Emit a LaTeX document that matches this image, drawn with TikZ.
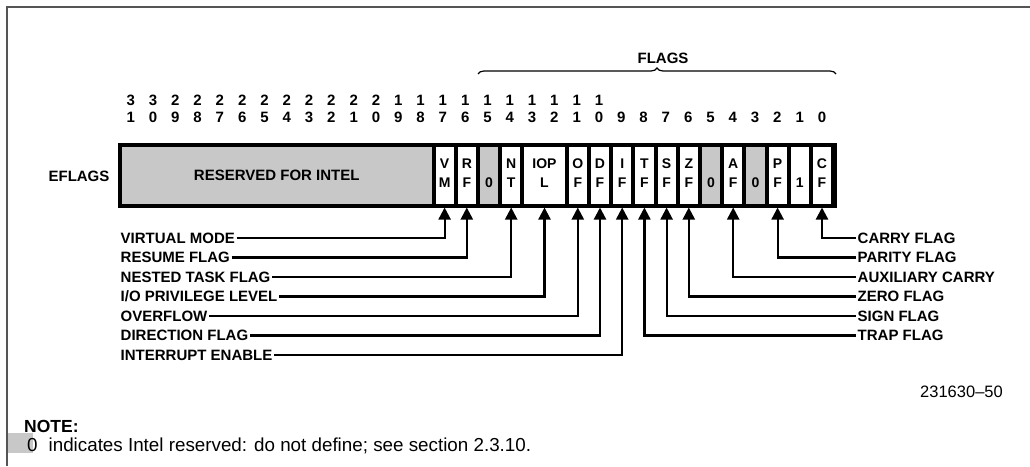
\documentclass[tikz,border=0pt]{standalone}
\usepackage{fontspec}
\setmainfont{Liberation Sans}
\newfontfamily\draftfont{Liberation Sans}
\usetikzlibrary{arrows.meta,decorations.pathreplacing}
\definecolor{resgray}{HTML}{C8C8C8}
\definecolor{framegray}{HTML}{555555}

\begin{document}
\begin{tikzpicture}[x=1pt,y=-1pt,
	lbl/.style={font=\draftfont\bfseries\fontsize{15}{17}\selectfont, inner sep=1.5pt, text height=10.5pt, text depth=0pt},
	bitno/.style={font=\draftfont\bfseries\fontsize{15}{17}\selectfont, align=center, inner sep=0pt},
	cell/.style={fill=white, minimum width=18.2pt, minimum height=57pt, inner sep=0pt, outer sep=3.5pt, align=center, text depth=4pt, font=\draftfont\bfseries\fontsize{14}{19}\selectfont},
	rsv/.style={cell, fill=resgray},
	flagline/.style={line width=2.2pt, line join=miter, -{Triangle[length=12pt,width=12pt]}}]
			%%%%% START %%%%%
			\useasboundingbox (0,0) rectangle (1030,466);
			
			\fill[resgray] (8,433) rectangle (33,453);
			\draw[framegray, line width=1.5pt] (1030,7) -- (7,7) -- (7,466);
			
			% bit numbers
			\node[bitno] (b31) at (130.7,108.5) {3\\1};
			\node[bitno] (b30) at (153,108.5) {3\\0};
			\node[bitno] (b29) at (175.3,108.5) {2\\9};
			\node[bitno] (b28) at (197.6,108.5) {2\\8};
			\node[bitno] (b27) at (219.9,108.5) {2\\7};
			\node[bitno] (b26) at (242.2,108.5) {2\\6};
			\node[bitno] (b25) at (264.5,108.5) {2\\5};
			\node[bitno] (b24) at (286.8,108.5) {2\\4};
			\node[bitno] (b23) at (309.1,108.5) {2\\3};
			\node[bitno] (b22) at (331.4,108.5) {2\\2};
			\node[bitno] (b21) at (353.7,108.5) {2\\1};
			\node[bitno] (b20) at (376,108.5) {2\\0};
			\node[bitno] (b19) at (398.3,108.5) {1\\9};
			\node[bitno] (b18) at (420.6,108.5) {1\\8};
			\node[bitno] (b17) at (442.9,108.5) {1\\7};
			\node[bitno] (b16) at (465.2,108.5) {1\\6};
			\node[bitno] (b15) at (487.5,108.5) {1\\5};
			\node[bitno] (b14) at (509.8,108.5) {1\\4};
			\node[bitno] (b13) at (532.1,108.5) {1\\3};
			\node[bitno] (b12) at (554.4,108.5) {1\\2};
			\node[bitno] (b11) at (576.7,108.5) {1\\1};
			\node[bitno] (b10) at (599,108.5) {1\\0};
			\node[bitno] (b9) at (621.3,117) {9};
			\node[bitno] (b8) at (643.6,117) {8};
			\node[bitno] (b7) at (665.9,117) {7};
			\node[bitno] (b6) at (688.2,117) {6};
			\node[bitno] (b5) at (710.5,117) {5};
			\node[bitno] (b4) at (732.8,117) {4};
			\node[bitno] (b3) at (755.1,117) {3};
			\node[bitno] (b2) at (777.4,117) {2};
			\node[bitno] (b1) at (799.7,117) {1};
			\node[bitno] (b0) at (822,117) {0};
			
			% flags brace
			\draw[line width=1.2pt, decorate, decoration={brace, amplitude=6pt}] (478,74) -- (836,74);
			\node[lbl] (flags) at (663,58) {FLAGS};
			
			% register
			\node[lbl] (eflags) at (79,176) {EFLAGS};
			\fill[black] (118,143) rectangle (837,208);
			\node[rsv, minimum width=309.5pt, text depth=0pt, font=\draftfont\bfseries\fontsize{15}{17}\selectfont] (cRSV) at (276.75,175.5) {RESERVED FOR INTEL};
			\node[cell] (cVM) at (444.6,175.5) {V\\M};
			\node[cell] (cRF) at (466.8,175.5) {R\\F};
			\node[rsv] (c15) at (489,175.5) {\phantom{0}\\0};
			\node[cell] (cNT) at (511.2,175.5) {N\\T};
			\node[cell, minimum width=40.4pt] (cIOPL) at (544.5,175.5) {IOP\\L};
			\node[cell] (cOF) at (577.8,175.5) {O\\F};
			\node[cell] (cDF) at (600,175.5) {D\\F};
			\node[cell] (cIF) at (622.2,175.5) {I\\F};
			\node[cell] (cTF) at (644.4,175.5) {T\\F};
			\node[cell] (cSF) at (666.6,175.5) {S\\F};
			\node[cell] (cZF) at (688.8,175.5) {Z\\F};
			\node[rsv] (c5) at (711,175.5) {\phantom{0}\\0};
			\node[cell] (cAF) at (733.2,175.5) {A\\F};
			\node[rsv] (c3) at (755.4,175.5) {\phantom{0}\\0};
			\node[cell] (cPF) at (777.6,175.5) {P\\F};
			\node[cell] (c1) at (799.8,175.5) {\phantom{1}\\1};
			\node[cell] (cCF) at (822,175.5) {C\\F};
			
			% flag names
			\node[lbl, anchor=west] (lVM) at (119,238) {VIRTUAL MODE};
			\node[lbl, anchor=west] (lRF) at (119,257.5) {RESUME FLAG};
			\node[lbl, anchor=west] (lNT) at (119,277) {NESTED TASK FLAG};
			\node[lbl, anchor=west] (lIOPL) at (119,296.5) {I/O PRIVILEGE LEVEL};
			\node[lbl, anchor=west] (lOF) at (119,316) {OVERFLOW};
			\node[lbl, anchor=west] (lDF) at (119,335.5) {DIRECTION FLAG};
			\node[lbl, anchor=west] (lIF) at (119,355) {INTERRUPT ENABLE};
			
			\node[lbl, anchor=west] (rCF) at (856,238) {CARRY FLAG};
			\node[lbl, anchor=west] (rPF) at (856,257.5) {PARITY FLAG};
			\node[lbl, anchor=west] (rAF) at (856,277) {AUXILIARY CARRY};
			\node[lbl, anchor=west] (rZF) at (856,296.5) {ZERO FLAG};
			\node[lbl, anchor=west] (rSF) at (856,316) {SIGN FLAG};
			\node[lbl, anchor=west] (rTF) at (856,335.5) {TRAP FLAG};
			
			\draw[flagline] (lVM.east) -| (cVM.south);
			\draw[flagline] (lRF.east) -| (cRF.south);
			\draw[flagline] (lNT.east) -| (cNT.south);
			\draw[flagline] (lIOPL.east) -| (cIOPL.south);
			\draw[flagline] (lOF.east) -| (cOF.south);
			\draw[flagline] (lDF.east) -| (cDF.south);
			\draw[flagline] (lIF.east) -| (cIF.south);
			
			\draw[flagline] (rCF.west) -| (cCF.south);
			\draw[flagline] (rPF.west) -| (cPF.south);
			\draw[flagline] (rAF.west) -| (cAF.south);
			\draw[flagline] (rZF.west) -| (cZF.south);
			\draw[flagline] (rSF.west) -| (cSF.south);
			\draw[flagline] (rTF.west) -| (cTF.south);
			
			% notes
			\node[font=\fontsize{16.5}{18}\selectfont, anchor=east, inner sep=0pt] (figno) at (1003,392) {231630--50};
			\node[font=\bfseries\fontsize{17.5}{20}\selectfont, anchor=west, inner sep=0pt] (note) at (24,426) {NOTE:};
			\node[font=\fontsize{18.8}{20}\selectfont, anchor=west, inner sep=0pt] (notetxt) at (27,446) {0\hspace{11pt}indicates Intel reserved: do not define; see section 2.3.10.};
			%%%%% END %%%%%
\end{tikzpicture}
\end{document}
